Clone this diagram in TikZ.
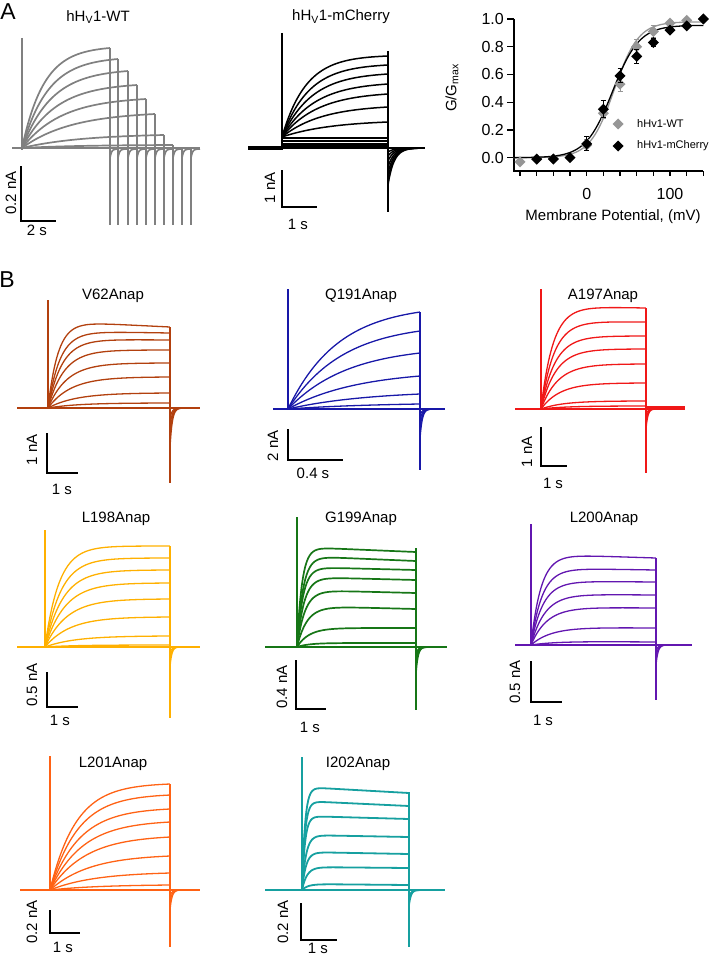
\documentclass[tikz,border=0pt]{standalone}
\usepackage{fontspec}
\setmainfont{Liberation Sans}
\definecolor{cwt}{RGB}{128,128,128}
\definecolor{cwtl}{RGB}{150,150,150}
\definecolor{cv}{RGB}{178,64,14}
\definecolor{cq}{RGB}{24,24,168}
\definecolor{ca}{RGB}{240,24,24}
\definecolor{cl}{RGB}{255,176,0}
\definecolor{cg}{RGB}{22,118,22}
\definecolor{cp}{RGB}{98,22,176}
\definecolor{co}{RGB}{255,98,20}
\definecolor{ct}{RGB}{22,160,160}
% trace: x0, x1, ybase, yplateau, yend, tau
\newcommand\tr[6]{\draw plot[domain=0:1,samples=50] ({#1+\x*\x*(#2-#1)},{#3+(#4-#3)*(1-exp(-\x*\x*(#2-#1)/#6))/(1-exp(-(#2-#1)/#6))+(#5-#4)*\x*\x});}
% tail: x1, ybase, amplitude, tau
\newcommand\tl[4]{\draw plot[domain=0:1,samples=25] ({#1+\x*\x*6*#4},{#2+#3*exp(-\x*\x*6)});}
% G-V helpers
\newcommand\gx[1]{586.7+0.8333*(#1)}
\newcommand\gy[1]{157.7-138.7*(#1)}
\newcommand\dmd[3]{\fill[#3] ({\gx{#1}},{\gy{#2}}) +(0,-5.5) -- +(5.5,0) -- +(0,5.5) -- +(-5.5,0) -- cycle;}
\newcommand\ebar[4]{\draw[#4,line width=1pt] ({\gx{#1}},{\gy{#2-#3}}) -- ({\gx{#1}},{\gy{#2+#3}}) ({\gx{#1}-2.5},{\gy{#2-#3}}) -- ({\gx{#1}+2.5},{\gy{#2-#3}}) ({\gx{#1}-2.5},{\gy{#2+#3}}) -- ({\gx{#1}+2.5},{\gy{#2+#3}});}
\tikzset{
  trc/.style={line width=1.3pt, line join=round},
  base/.style={line width=2pt},
  sbar/.style={line width=1.9pt, black},
  lbl/.style={font=\fontsize{15}{18}\selectfont, inner sep=0pt, text=black},
  tick/.style={font=\fontsize{16}{18}\selectfont, inner sep=0pt, text=black},
  rot/.style={lbl, rotate=90},
  panlbl/.style={font=\fontsize{23}{25}\selectfont, inner sep=0pt},
  leg/.style={font=\fontsize{11}{13}\selectfont, inner sep=0pt, anchor=west}
}
\begin{document}
\begin{tikzpicture}[x=1pt,y=-1pt]
\useasboundingbox (0,0) rectangle (722,955);
\node[panlbl] (lA) at (8,12) {A};
\node[panlbl] (lB) at (7,280) {B};

% ---------------- WT ----------------
\node[lbl] (tWT) at (98,17) {hH\textsubscript{V}1-WT};
\begin{scope}[cwt, trc, line width=1.7pt]
  \draw[line width=2.4pt] (12,148) -- (200,148);
  \draw (22,38) -- (22,150);
  \tr{22}{110}{148}{48}{48}{22}
  \tr{22}{118}{148}{59}{59}{26}
  \tr{22}{128}{148}{71}{71}{30}
  \tr{22}{137}{148}{85}{85}{34}
  \tr{22}{146}{148}{99}{99}{40}
  \tr{22}{155}{148}{114}{114}{50}
  \tr{22}{164}{148}{135}{135}{60}
  \tr{22}{173}{148}{145}{145}{60}
  \foreach \xe/\yl in {110/48,118/59,128/71,137/85,146/99,155/114,164/135,173/145,182/148,191/148}{
    \draw (\xe,\yl) -- (\xe,225);
    \tl{\xe}{149}{9}{1.5}
  }
\end{scope}
\draw[sbar] (21,166) -- (21,221) -- (56,221);
\node[rot] (sWTy) at (11,193) {0.2 nA};
\node[lbl] (sWTx) at (37,230) {2 s};

% ---------------- mCherry ----------------
\node[lbl] (tMC) at (341,17) {hH\textsubscript{V}1-mCherry};
\begin{scope}[black, trc, line width=1.5pt]
  \draw[base] (248,148) -- (425,148);
  \draw[line width=3.2pt] (248,148) -- (282,148);
  \draw (282,33) -- (282,150);
  \draw (388,51) -- (388,212);
  \tr{282}{388}{137}{56}{56}{24}
  \tr{282}{388}{137}{65}{65}{27}
  \tr{282}{388}{137}{74}{74}{30}
  \tr{282}{388}{137}{84}{84}{33}
  \tr{282}{388}{137}{94}{94}{36}
  \tr{282}{388}{137}{107}{107}{40}
  \tr{282}{388}{137}{122}{122}{50}
  \foreach \yy in {138,141,144,146}{\draw[line width=1.1pt] (282,\yy) -- (388,\yy);}
  \foreach \a in {37,31,25,19,13,8,4}{\tl{388}{148}{\a}{6}}
\end{scope}
\draw[sbar] (282,170) -- (282,207) -- (317,207);
\node[rot] (sMCy) at (270,188) {1 nA};
\node[lbl] (sMCx) at (298,224) {1 s};

% ---------------- G/Gmax ----------------
\draw[line width=1.4pt] (514,19) -- (514,171) -- (703,171);
\foreach \v in {0,0.2,0.4,0.6,0.8,1.0}{
  \draw[line width=1.4pt] (507,{\gy{\v}}) -- (514,{\gy{\v}});
}
\foreach \v/\t in {0/0.0,0.2/0.2,0.4/0.4,0.6/0.6,0.8/0.8,1.0/1.0}{
  \node[tick, anchor=east] at (504,{\gy{\v}}) {\t};
}
\foreach \m in {-80,-60,...,140}{
  \draw[line width=1.4pt] ({\gx{\m}},171) -- ({\gx{\m}},176);
}
\node[tick] (x0) at ({\gx{0}},194) {0};
\node[tick] (x100) at ({\gx{100}},194) {100};
\node[lbl] (xlab) at (613,217) {Membrane Potential, (mV)};
\node[rot] (ylab) at (452,88) {G/G\textsubscript{max}};
\draw[cwtl, line width=1.3pt] plot[domain=-88:140, samples=80] ({\gx{\x}},{\gy{0.98/(1+exp(-(\x-33)/14.5))}});
\draw[black, line width=1.3pt] plot[domain=-88:140, samples=80] ({\gx{\x}},{\gy{0.955/(1+exp(-(\x-31)/16))}});
% WT error bars and points
\ebar{0}{0.09}{0.04}{cwtl}
\ebar{20}{0.32}{0.04}{cwtl}
\ebar{40}{0.53}{0.05}{cwtl}
\ebar{60}{0.80}{0.05}{cwtl}
\ebar{80}{0.91}{0.04}{cwtl}
\ebar{100}{0.97}{0.02}{cwtl}
\ebar{120}{0.99}{0.01}{cwtl}
\foreach \v/\g in {-80/-0.03,-60/-0.01,-40/-0.01,0/0.09,20/0.32,40/0.53,60/0.80,80/0.91,100/0.97,120/0.99,140/1.0}{
  \dmd{\v}{\g}{cwtl}
}
% mCherry error bars and points
\ebar{-60}{-0.01}{0.02}{black}
\ebar{0}{0.10}{0.05}{black}
\ebar{20}{0.35}{0.06}{black}
\ebar{40}{0.59}{0.05}{black}
\ebar{60}{0.73}{0.05}{black}
\ebar{80}{0.83}{0.03}{black}
\ebar{100}{0.92}{0.02}{black}
\ebar{120}{0.95}{0.02}{black}
\foreach \v/\g in {-60/-0.01,-40/-0.01,-20/0.0,0/0.10,20/0.35,40/0.59,60/0.73,80/0.83,100/0.92,120/0.95,140/1.0}{
  \dmd{\v}{\g}{black}
}
\fill[cwtl] (618,124) +(0,-5.5) -- +(5.5,0) -- +(0,5.5) -- +(-5.5,0) -- cycle;
\fill[black] (618,146) +(0,-5.5) -- +(5.5,0) -- +(0,5.5) -- +(-5.5,0) -- cycle;
\node[leg] (legWT) at (637,124) {hHv1-WT};
\node[leg] (legMC) at (637,146) {hHv1-mCherry};

% ---------------- V62Anap ----------------
\node[lbl] (tV62) at (113,296) {V62Anap};
\begin{scope}[cv, trc]
  \draw[base] (17,408) -- (200,408);
  \draw (48,300) -- (48,409);
  \draw (170,327) -- (170,483);
  \tr{48}{170}{408}{321}{327}{10}
  \tr{48}{170}{408}{331}{333}{12}
  \tr{48}{170}{408}{339}{340}{14}
  \tr{48}{170}{408}{350}{350}{16}
  \tr{48}{170}{408}{363}{363}{19}
  \tr{48}{170}{408}{377}{377}{23}
  \tr{48}{170}{408}{393}{393}{28}
  \tr{48}{170}{408}{403}{403}{30}
  \foreach \a in {40,28,18,10}{\tl{170}{408}{\a}{2.2}}
\end{scope}
\draw[sbar] (47,433) -- (47,473) -- (78,473);
\node[rot] (sV62y) at (32,450) {1 nA};
\node[lbl] (sV62x) at (62,489) {1 s};

% ---------------- Q191Anap ----------------
\node[lbl] (tQ191) at (361,296) {Q191Anap};
\begin{scope}[cq, trc]
  \draw[base] (273,409) -- (445,409);
  \draw (288,289) -- (288,410);
  \draw (420,312) -- (420,470);
  \tr{288}{420}{409}{312}{312}{50}
  \tr{288}{420}{409}{331}{331}{55}
  \tr{288}{420}{409}{353}{353}{60}
  \tr{288}{420}{409}{376}{376}{70}
  \tr{288}{420}{409}{394}{394}{80}
  \tr{288}{420}{409}{404}{404}{90}
  \foreach \a in {30,20,12,6}{\tl{420}{409}{\a}{2.2}}
\end{scope}
\draw[sbar] (288,429) -- (288,460) -- (343,460);
\node[rot] (sQ191y) at (273,446) {2 nA};
\node[lbl] (sQ191x) at (313,473) {0.4 s};

% ---------------- A197Anap ----------------
\node[lbl] (tA197) at (603,296) {A197Anap};
\begin{scope}[ca, trc]
  \draw[base] (515,409) -- (685,409);
  \draw (646,407) -- (685,407);
  \draw (541,289) -- (541,410);
  \draw (646,308) -- (646,473);
  \tr{541}{646}{409}{306}{308}{12}
  \tr{541}{646}{409}{321}{322}{13}
  \tr{541}{646}{409}{336}{336}{14}
  \tr{541}{646}{409}{349}{349}{15}
  \tr{541}{646}{409}{364}{364}{17}
  \tr{541}{646}{409}{383}{383}{19}
  \tr{541}{646}{409}{401}{401}{22}
  \tr{541}{646}{409}{406}{406}{25}
  \foreach \a in {20,12,6}{\tl{646}{409}{\a}{1.8}}
\end{scope}
\draw[sbar] (541,427) -- (541,466) -- (567,466);
\node[rot] (sA197y) at (527,452) {1 nA};
\node[lbl] (sA197x) at (553,483) {1 s};

% ---------------- L198Anap ----------------
\node[lbl] (tL198) at (116,519) {L198Anap};
\begin{scope}[cl, trc]
  \draw[base] (17,647) -- (200,647);
  \draw (45,530) -- (45,648);
  \draw (170,546) -- (170,718);
  \tr{45}{170}{647}{546}{546}{14}
  \tr{45}{170}{647}{558}{558}{16}
  \tr{45}{170}{647}{570}{570}{18}
  \tr{45}{170}{647}{583}{583}{20}
  \tr{45}{170}{647}{599}{599}{22}
  \tr{45}{170}{647}{617}{617}{25}
  \tr{45}{170}{647}{636}{636}{30}
  \tr{45}{170}{647}{645}{645}{30}
  \foreach \a in {20,12,6}{\tl{170}{647}{\a}{1.8}}
\end{scope}
\draw[sbar] (47,672) -- (47,707) -- (78,707);
\node[rot] (sL198y) at (32,685) {0.5 nA};
\node[lbl] (sL198x) at (60,720) {1 s};

% ---------------- G199Anap ----------------
\node[lbl] (tG199) at (361,519) {G199Anap};
\begin{scope}[cg, trc, line width=1.7pt]
  \draw[base] (265,647) -- (447,647);
  \draw[line width=1.2pt] (297,517) -- (297,648);
  \draw[line width=1.2pt] (416,548) -- (416,710);
  \tr{297}{416}{647}{547}{552}{5}
  \tr{297}{416}{647}{556}{561}{6}
  \tr{297}{416}{647}{567}{570}{6}
  \tr{297}{416}{647}{577}{580}{7}
  \tr{297}{416}{647}{590}{593}{8}
  \tr{297}{416}{647}{606}{609}{10}
  \tr{297}{416}{647}{628}{628}{12}
  \tr{297}{416}{647}{643}{643}{12}
  \foreach \a in {25,15,8}{\tl{416}{647}{\a}{2}}
\end{scope}
\draw[sbar] (296,660) -- (296,709) -- (326,709);
\node[rot] (sG199y) at (282,687) {0.4 nA};
\node[lbl] (sG199x) at (310,727) {1 s};

% ---------------- L200Anap ----------------
\node[lbl] (tL200) at (604,519) {L200Anap};
\begin{scope}[cp, trc]
  \draw[base] (515,645) -- (692,645);
  \draw (531,524) -- (531,646);
  \draw (656,558) -- (656,700);
  \tr{531}{656}{645}{554}{558}{10}
  \tr{531}{656}{645}{568}{570}{11}
  \tr{531}{656}{645}{581}{582}{12}
  \tr{531}{656}{645}{594}{595}{14}
  \tr{531}{656}{645}{607}{608}{16}
  \tr{531}{656}{645}{627}{628}{20}
  \tr{531}{656}{645}{641}{642}{25}
  \foreach \a in {20,12,6}{\tl{656}{645}{\a}{2}}
\end{scope}
\draw[sbar] (531,661) -- (531,702) -- (562,702);
\node[rot] (sL200y) at (515,682) {0.5 nA};
\node[lbl] (sL200x) at (543,720) {1 s};

% ---------------- L201Anap ----------------
\node[lbl] (tL201) at (113,764) {L201Anap};
\begin{scope}[co, trc]
  \draw[base] (20,890) -- (200,890);
  \draw (50,756) -- (50,891);
  \draw (170,784) -- (170,947);
  \tr{50}{170}{890}{784}{784}{26}
  \tr{50}{170}{890}{795}{795}{28}
  \tr{50}{170}{890}{809}{809}{30}
  \tr{50}{170}{890}{822}{822}{33}
  \tr{50}{170}{890}{837}{837}{36}
  \tr{50}{170}{890}{856}{856}{40}
  \tr{50}{170}{890}{873}{873}{45}
  \tr{50}{170}{890}{885}{885}{50}
  \foreach \a in {20,12,6}{\tl{170}{890}{\a}{2}}
\end{scope}
\draw[sbar] (50,910) -- (50,933) -- (80,933);
\node[rot] (sL201y) at (32,922) {0.2 nA};
\node[lbl] (sL201x) at (63,947) {1 s};

% ---------------- I202Anap ----------------
\node[lbl] (tI202) at (358,764) {I202Anap};
\begin{scope}[ct, trc, line width=1.8pt]
  \draw[base] (265,890) -- (445,890);
  \draw[line width=1.1pt] (302,757) -- (302,891);
  \draw[line width=1.1pt] (409,792) -- (409,947);
  \tr{302}{409}{890}{787}{793}{3}
  \tr{302}{409}{890}{801}{806}{3}
  \tr{302}{409}{890}{816}{819}{3}
  \tr{302}{409}{890}{835}{837}{4}
  \tr{302}{409}{890}{852}{854}{4}
  \tr{302}{409}{890}{867}{868}{5}
  \tr{302}{409}{890}{884}{885}{6}
  \foreach \a in {15,8}{\tl{409}{890}{\a}{2}}
\end{scope}
\draw[sbar] (301,903) -- (301,940) -- (337,940);
\node[rot] (sI202y) at (283,922) {0.2 nA};
\node[lbl] (sI202x) at (318,948) {1 s};
\end{tikzpicture}
\end{document}
